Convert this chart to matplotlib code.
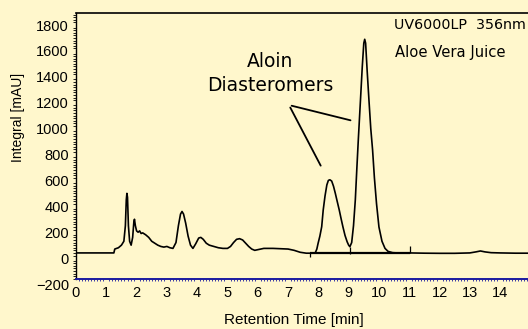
import numpy as np
import matplotlib.pyplot as plt

# chromatogram trace (time [min], signal [mAU])
t = [0, 1.25, 1.28, 1.4, 1.5, 1.58, 1.63, 1.66, 1.68, 1.70, 1.73, 1.77, 1.82,
     1.87, 1.91, 1.93, 1.96, 2.0, 2.05, 2.1, 2.15, 2.2, 2.3, 2.4, 2.5, 2.6,
     2.7, 2.8, 2.9, 3.0, 3.05, 3.1, 3.2, 3.3, 3.38, 3.45, 3.5, 3.55, 3.62,
     3.7, 3.78, 3.86, 3.95, 4.05, 4.12, 4.2, 4.3, 4.4, 4.55, 4.7, 4.85, 5.0,
     5.1, 5.2, 5.3, 5.4, 5.5, 5.6, 5.7, 5.8, 5.9, 6.0, 6.2, 6.5, 6.8, 7.0,
     7.2, 7.4, 7.6, 7.8, 7.9, 7.95, 7.99, 8.05, 8.11, 8.16, 8.22, 8.28, 8.33,
     8.38, 8.44, 8.5, 8.56, 8.62, 8.69, 8.75, 8.81, 8.88, 8.95, 9.0, 9.04,
     9.1, 9.16, 9.22, 9.27, 9.32, 9.39, 9.45, 9.5, 9.53, 9.56, 9.61, 9.67,
     9.73, 9.79, 9.85, 9.92, 10.0, 10.1, 10.2, 10.3, 10.45, 10.6, 11.0, 11.5,
     12.0, 12.5, 13.0, 13.2, 13.35, 13.5, 13.7, 14.0, 14.5, 14.95]
sig = [40, 40, 70, 80, 100, 130, 250, 450, 500, 470, 250, 130, 100,
       160, 280, 300, 250, 210, 200, 210, 190, 195, 180, 160, 130, 115,
       100, 90, 85, 90, 85, 80, 75, 120, 250, 340, 360, 340, 270,
       170, 100, 75, 110, 155, 160, 145, 115, 100, 90, 80, 75, 75,
       90, 120, 145, 150, 140, 115, 90, 70, 60, 65, 75, 75, 72, 70,
       60, 45, 38, 38, 42, 70, 113, 170, 242, 371, 480, 565, 600,
       605, 595, 555, 500, 440, 371, 305, 242, 175, 126, 100, 88,
       120, 250, 450, 690, 920, 1220, 1480, 1660, 1690, 1660, 1450, 1220,
       1000, 835, 620, 420, 240, 130, 75, 52, 42, 40, 40, 38,
       37, 37, 40, 48, 55, 48, 42, 40, 38, 38]

# integration markers and baseline
mark_t = [7.72, 9.04, 11.02]
mark_lo = [5, 35, 40]
mark_hi = [40, 88, 90]
base_t0, base_t1, base_y = 7.72, 11.02, 38

xticks = list(range(0, 15))
yticks = list(range(-200, 1801, 200))

bg = '#fff7cc'
plt.rcParams['font.family'] = ['Liberation Sans', 'DejaVu Sans']

fig = plt.figure(figsize=(5.28, 3.29), dpi=100, facecolor=bg)
ax = fig.add_axes([76/528, 1-284/329, 1-76/528, (284-13)/329])
ax.set_facecolor(bg)

ax.plot(t, sig, color='black', lw=1.2)
ax.vlines(mark_t, mark_lo, mark_hi, color='black', lw=0.9)
ax.hlines(base_y, base_t0, base_t1, color='black', lw=1.6)

ax.set_xlim(0, 14.92)
ax.set_ylim(-200, 1893)
ax.set_xticks(xticks)
ax.set_yticks(yticks)
ax.set_xticks(np.arange(0, 15, 0.1), minor=True)
ax.set_yticks(np.arange(-160, 1893, 20), minor=True)

ax.spines['right'].set_visible(False)
ax.spines['top'].set_linewidth(1.2)
ax.spines['left'].set_linewidth(1.0)
ax.spines['left'].set_bounds(-165, 1893)
ax.spines['bottom'].set_position(('data', -165))
ax.spines['bottom'].set_color('#1a1aa0')
ax.spines['bottom'].set_linestyle((0, (1, 1)))
ax.spines['bottom'].set_linewidth(1.4)

ax.tick_params(axis='both', which='major', length=0, labelsize=10.5, pad=5)
ax.tick_params(axis='y', which='minor', length=2, width=0.6, color='black')
ax.tick_params(axis='x', which='minor', length=1.5, width=0.6, color='#1a1aa0')

ax.annotate('', xy=(8.12, 695), xytext=(7.03, 1182),
            arrowprops=dict(arrowstyle='-', color='black', lw=1.3))
ax.annotate('', xy=(9.15, 1059), xytext=(7.03, 1182),
            arrowprops=dict(arrowstyle='-', color='black', lw=1.3))
ax.text(6.4, 1426, 'Aloin\nDiasteromers', ha='center', va='center',
        fontsize=13.5, family='DejaVu Sans', linespacing=1.3)

fig.text(394/528, 1-25/329, 'UV6000LP  356nm', fontsize=10.3, va='center',
         family='DejaVu Sans')
fig.text(395/528, 1-52/329, 'Aloe Vera Juice', fontsize=10.6, va='center',
         family='DejaVu Sans')

fig.text(18/528, 1-117/329, 'Integral [mAU]', rotation=90, fontsize=10,
         ha='center', va='center')
fig.text(293.5/528, 1-320/329, 'Retention Time [min]', fontsize=11,
         ha='center', va='center')

fig.savefig('out.png', dpi=100, facecolor=bg)
